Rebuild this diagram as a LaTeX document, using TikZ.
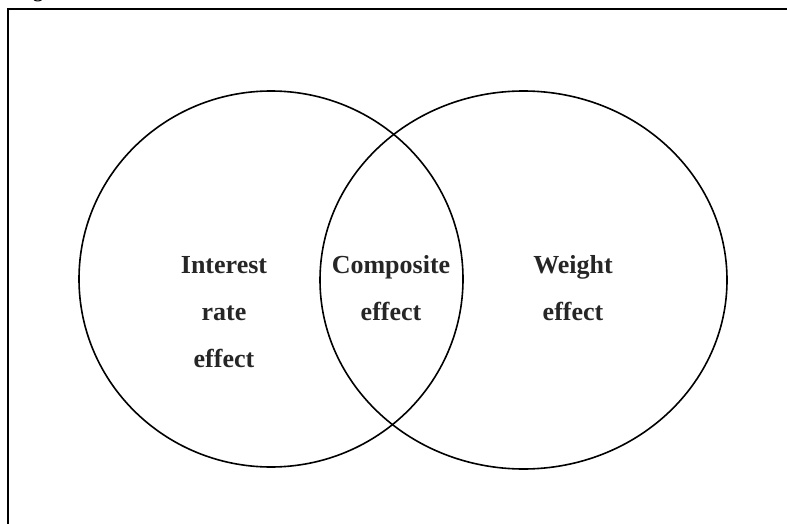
\documentclass[tikz,border=0pt]{standalone}
\usepackage{fontspec}
\setmainfont{Liberation Serif}
\begin{document}
\begin{tikzpicture}[x=1pt,y=-1pt,
  ring/.style={draw=black,line width=1.6pt},
  lbl/.style={font=\bfseries\fontsize{26}{47}\selectfont,align=center,inner sep=0pt,anchor=base,text=black!85}]
\useasboundingbox (0,0) rectangle (787,524);
\clip (0,0) rectangle (787,524);
\draw[line width=2pt] (7.5,560) -- (7.5,9) -- (800,9);
\node[font=\bfseries\fontsize{20}{24}\selectfont,anchor=base west,inner sep=0pt] (cap) at (33,-2) {g};
\draw[ring] (271,279) ellipse [x radius=192, y radius=188];
\draw[ring] (523.5,280) ellipse [x radius=203.5, y radius=189];
\node[lbl] (ire) at (224,367) {Interest\\rate\\effect};
\node[lbl] (ce) at (391,320) {Composite\\effect};
\node[lbl] (we) at (573,320) {Weight\\effect};
\end{tikzpicture}
\end{document}
